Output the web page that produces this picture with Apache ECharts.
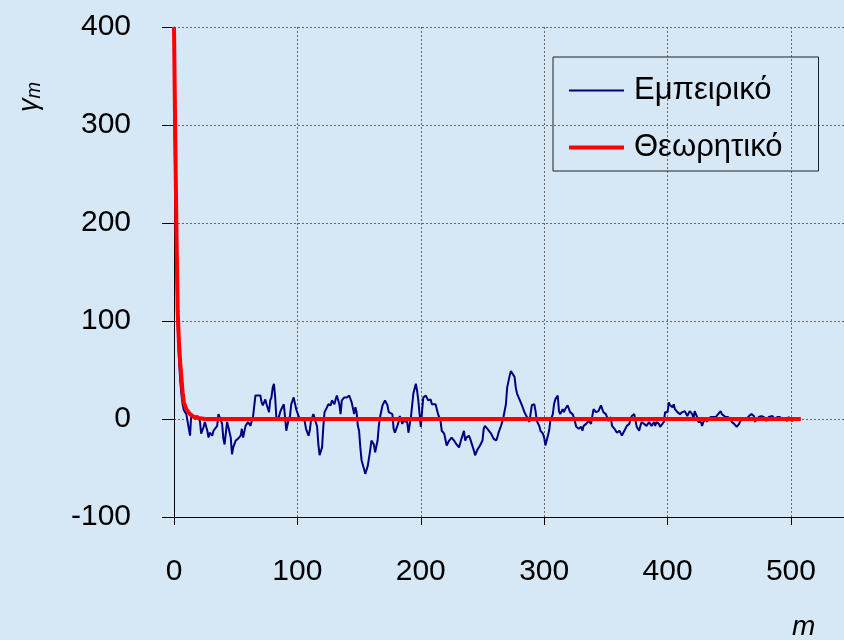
<!DOCTYPE html>
<html>
<head>
<meta charset="utf-8">
<script src="https://cdn.jsdelivr.net/npm/echarts@6.0.0/dist/echarts.min.js"></script>
<style>
  html, body { margin: 0; padding: 0; background: #d6e7f5; }
  #chart { width: 844px; height: 640px; }
</style>
</head>
<body>
<div id="chart"></div>
<script>
// lag m and empirical autocovariance
const empM = [
  0, 1, 2, 3, 4, 5, 6, 7, 8, 9, 10, 13, 14, 17, 19, 21, 22, 24, 25, 27, 28, 29, 31, 32, 33, 35, 36, 37, 39, 40,
  41, 43, 44, 46, 47, 48, 50, 51, 52, 54, 55, 56, 58, 59, 60, 62, 63, 64, 66, 67, 68, 70, 71, 72, 74, 75, 77, 78, 79, 80,
  81, 82, 83, 85, 86, 87, 89, 90, 91, 93, 94, 95, 97, 98, 99, 101, 102, 103, 105, 106, 107, 109, 110, 111, 113, 114, 116, 117, 118, 120,
  121, 122, 124, 125, 127, 128, 130, 131, 132, 134, 135, 136, 138, 139, 140, 142, 143, 144, 146, 147, 148, 149, 150, 151, 152, 154, 155, 156, 157, 159,
  160, 162, 163, 165, 166, 167, 169, 170, 171, 173, 174, 175, 177, 178, 179, 181, 182, 183, 185, 186, 187, 189, 190, 192, 193, 194, 196, 197, 198, 200,
  201, 202, 204, 205, 206, 208, 209, 210, 212, 213, 214, 216, 217, 219, 220, 221, 223, 224, 225, 227, 228, 229, 231, 232, 233, 235, 236, 237, 239, 240,
  241, 243, 244, 246, 247, 248, 250, 251, 252, 254, 255, 257, 258, 259, 261, 262, 263, 265, 266, 267, 269, 270, 272, 273, 274, 276, 277, 278, 280, 281,
  282, 284, 285, 286, 288, 289, 290, 292, 293, 294, 296, 297, 299, 300, 301, 303, 304, 305, 307, 308, 309, 311, 312, 313, 315, 316, 317, 319, 320, 321,
  323, 324, 326, 327, 328, 330, 331, 332, 334, 335, 336, 338, 339, 340, 342, 343, 344, 346, 347, 348, 350, 351, 352, 354, 355, 357, 358, 359, 361, 362,
  363, 365, 366, 367, 369, 370, 371, 373, 374, 375, 377, 378, 379, 381, 382, 383, 385, 386, 387, 389, 390, 391, 393, 394, 395, 397, 398, 400, 401, 402,
  404, 405, 406, 408, 409, 410, 412, 413, 414, 416, 417, 418, 420, 421, 422, 424, 425, 427, 428, 429, 431, 432, 433, 435, 436, 437, 439, 440, 441, 443,
  444, 445, 447, 448, 449, 451, 452, 454, 455, 456, 458, 459, 460, 462, 463, 464, 466, 467, 468, 470, 471, 472, 474, 475, 476, 478, 479, 480, 482, 483,
  485, 486, 487, 489, 490, 491, 493, 494, 495, 497, 498, 499, 501, 502
];
const empVal = [
  338, 240, 150, 95, 62, 40, 25, 15, 9, 8, 5, -17, 5, 2, 3, -2, -15, -8, -3, -12, -19, -14, -17, -12, -10, -7, 5, 7, -5, -20,
  -26, -3, -8, -19, -36, -29, -22, -22, -20, -17, -10, -19, -7, -8, -3, -7, -2, 2, 24, 26, 24, 24, 17, 14, 20, 15, 7, 19, 22, 32,
  36, 22, 0, 2, 7, 10, 15, 2, -12, 0, 3, 15, 22, 24, 10, 3, 0, -2, 0, -3, -10, -17, -12, -2, 5, 7, -8, -26, -37, -29,
  -8, 7, 12, 15, 14, 19, 15, 20, 24, 15, 5, 19, 22, 20, 22, 24, 24, 17, 5, 12, 7, -7, -12, -29, -42, -51, -56, -56, -48, -32,
  -22, -26, -34, -22, -7, 2, 14, 15, 19, 14, 7, 7, 5, -10, -14, -7, -3, 3, -5, -2, -2, -3, -14, 2, 14, 26, 36, 29, 19, -8,
  -8, 22, 24, 24, 19, 20, 15, 17, 15, 10, 5, -2, -12, -15, -17, -27, -22, -20, -19, -22, -20, -26, -29, -31, -20, -12, -22, -19, -17, -20,
  -22, -32, -37, -31, -32, -27, -22, -10, -7, -10, -12, -15, -17, -20, -22, -19, -14, -7, -3, 2, 15, 32, 44, 49, 48, 43, 32, 26, 20, 19,
  14, 7, 8, 2, -3, -3, 14, 15, 8, -2, -7, -12, -15, -19, -27, -17, -12, -2, 5, 15, 20, 24, 8, 5, 10, 7, 10, 14, 12, 7,
  5, 2, -8, -7, -10, -8, -12, -7, -5, -3, -2, -5, 3, 10, 7, 7, 8, 14, 12, 7, 5, 2, -2, 2, -7, -10, -12, -14, -12, -14,
  -17, -12, -10, -7, -5, 0, 3, 5, 3, -8, -12, -7, -3, -5, -3, -7, -3, -5, -7, -3, -7, -3, -5, -8, -7, -3, 7, 7, 17, 14,
  12, 15, 10, 7, 5, 5, 7, 5, 8, 3, 5, 8, 5, 0, 8, 2, -3, -3, -7, -3, 0, -3, 0, 2, 3, 2, 2, 3, 5, 8,
  5, 3, 2, 3, 2, 0, -3, -5, -7, -8, -5, -2, 0, 0, 2, 0, 3, 5, 5, 3, -3, 0, 2, 3, 3, 2, 0, -2, 2, 3,
  3, 2, 0, 2, 3, 2, 0, -2, 0, -2, 2, 0, -2, 0
];
// theoretical curve
const theoM = [0, 1, 2, 3, 4, 5, 6, 7, 8, 10, 13, 16, 20, 25, 508];
const theoVal = [400, 290, 190, 110, 78, 58, 42, 27, 17, 10, 5, 2, 1, 0, 0];

const xTicks = [0, 543, 100];   // min, max, interval
const yTicks = [-100, 400, 100];

const empData = empM.map((m, i) => [m, empVal[i]]);
const theoData = theoM.map((m, i) => [m, theoVal[i]]);

const chart = echarts.init(document.getElementById('chart'));
const fontFam = 'Liberation Sans, Arial, sans-serif';

const option = {
  backgroundColor: '#d6e7f5',
  animation: false,
  grid: {
    left: 174,
    top: 27,
    bottom: 123,
    right: 0
  },
  legend: {
    orient: 'vertical',
    left: 553,
    top: 57,
    padding: [18, 36, 8, 14],
    itemGap: 26,
    itemWidth: 55,
    itemHeight: 14,
    borderColor: '#222',
    borderWidth: 1,
    backgroundColor: 'transparent',
    itemStyle: { opacity: 0 },
    textStyle: {
      fontFamily: fontFam,
      fontSize: 31,
      lineHeight: 30,
      color: '#000',
      padding: [0, 0, 0, 5]
    },
    data: [
      { name: 'Εμπειρικό', lineStyle: { width: 2 } },
      { name: 'Θεωρητικό', lineStyle: { width: 4 } }
    ]
  },
  xAxis: {
    type: 'value',
    min: xTicks[0],
    max: xTicks[1],
    interval: xTicks[2],
    axisLine: { onZero: false, lineStyle: { color: '#000', width: 1 } },
    axisTick: { show: true, length: 8, lineStyle: { color: '#000' } },
    axisLabel: {
      margin: 40,
      fontFamily: fontFam,
      fontSize: 30,
      color: '#000',
      showMaxLabel: false
    },
    splitLine: { show: true, lineStyle: { color: '#666', type: [2, 2], width: 1 } }
  },
  yAxis: {
    type: 'value',
    min: yTicks[0],
    max: yTicks[1],
    interval: yTicks[2],
    axisLine: { show: true, onZero: false, lineStyle: { color: '#000', width: 1 } },
    axisTick: { show: true, length: 12, lineStyle: { color: '#000' } },
    axisLabel: {
      margin: 43,
      fontFamily: fontFam,
      fontSize: 30,
      color: '#000'
    },
    splitLine: { show: true, lineStyle: { color: '#666', type: [2, 2], width: 1 } }
  },
  graphic: [
    {
      type: 'text',
      x: 14,
      y: 112,
      rotation: Math.PI / 2,
      style: {
        text: '{g|γ}{s|m}',
        rich: {
          g: { fontFamily: fontFam, fontStyle: 'italic', fontSize: 27, fill: '#000' },
          s: { fontFamily: fontFam, fontStyle: 'italic', fontSize: 20, fill: '#000', padding: [10, 0, 0, 0] }
        }
      }
    },
    {
      type: 'text',
      left: 792,
      top: 613,
      style: {
        text: 'm',
        fontFamily: fontFam,
        fontStyle: 'italic',
        fontSize: 28,
        fill: '#000'
      }
    }
  ],
  series: [
    {
      name: 'Εμπειρικό',
      type: 'line',
      data: empData,
      showSymbol: false,
      symbol: 'none',
      color: '#000080',
      lineStyle: { color: '#000080', width: 2 }
    },
    {
      name: 'Θεωρητικό',
      type: 'line',
      data: theoData,
      showSymbol: false,
      symbol: 'none',
      color: '#ff0000',
      lineStyle: { color: '#ff0000', width: 4 }
    }
  ]
};

chart.setOption(option);
</script>
</body>
</html>
